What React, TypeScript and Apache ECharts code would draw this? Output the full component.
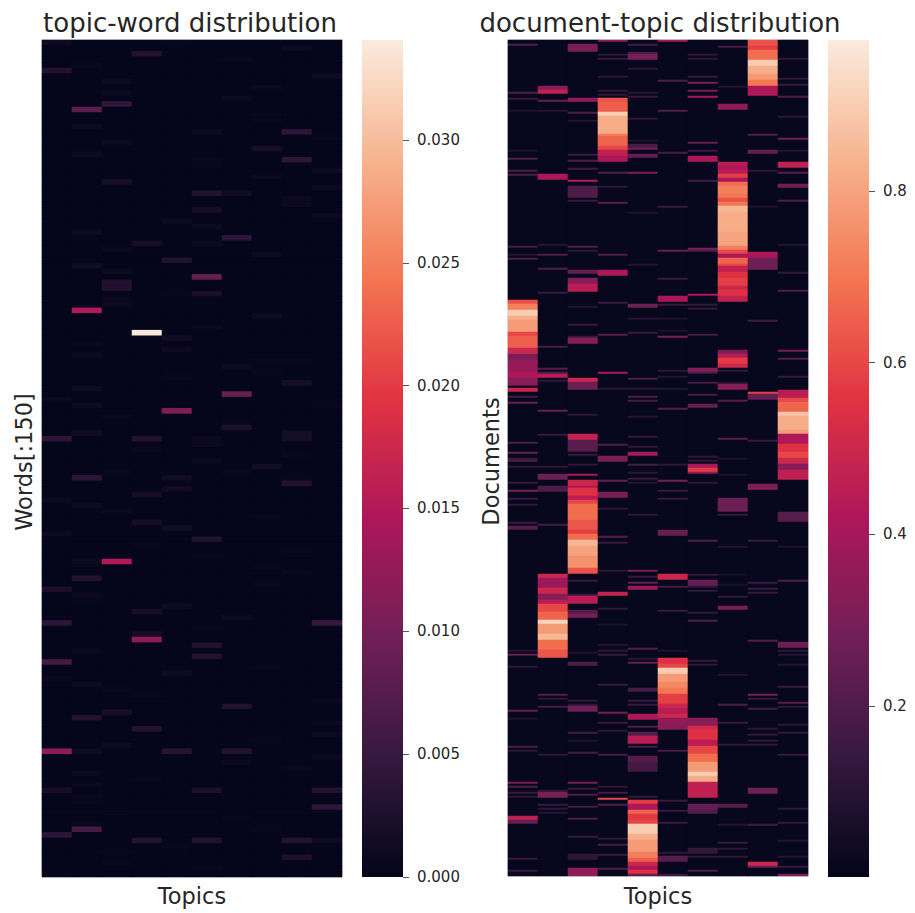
import React, { useEffect, useRef } from "react";
import * as echarts from "echarts";

const topics = ["0", "1", "2", "3", "4", "5", "6", "7", "8", "9"];
const wordCount = 150;
const docCount = 418;
const wordBase = 0.0002;
const docBase = 0.012;
const rocket = ["#03051a", "#35193e", "#701f57", "#ad1759", "#e13342", "#f37651", "#f6b48f", "#faebdd"];
const wordTicks = [0, 0.005, 0.01, 0.015, 0.02, 0.025, 0.03];
const docTicks = [0.2, 0.4, 0.6, 0.8];
const wordRange = [0, 0.03407];
const docRange = [0.0007, 0.976];

// [word row, weight]
const word0 = [[0,.001],[5,.003],[64,.0008],[71,.004],[82,.001],[88,.001],[98,.0025],[104,.004],[111,.006],[114,.0007],[127,.012],[134,.002],[142,.004],[149,.0006]];
const word1 = [[4,.0007],[12,.008],[15,.001],[20,.001],[34,.0012],[40,.0015],[48,.015],[54,.0007],[56,.001],[62,.0012],[65,.0012],[70,.0015],[78,.004],[83,.001],[93,.0012],[96,.003],[99,.0008],[100,.0005],[109,.0007],[115,.001],[121,.003],[127,.0012],[131,.0008],[133,.0008],[135,.0006],[136,.0006],[140,.0005],[141,.006]];
const word2 = [[7,.001],[9,.001],[11,.0045],[18,.001],[25,.002],[37,.0008],[41,.001],[43,.003],[44,.003],[46,.0008],[47,.0008],[67,.0006],[77,.0005],[84,.0008],[93,.015],[116,.0007],[120,.002],[126,.0012],[138,.0004],[145,.0006],[147,.0005]];
const word3 = [[2,.003],[36,.002],[52,.034],[71,.003],[73,.0007],[81,.002],[86,.002],[90,.0006],[102,.002],[106,.002],[107,.012],[117,.0006],[123,.003],[132,.0005],[143,.003]];
const word4 = [[0,.0005],[32,.001],[39,.003],[45,.0005],[53,.0015],[55,.001],[60,.0004],[66,.011],[78,.0015],[80,.0015],[87,.0015],[101,.0012],[113,.0012],[127,.0035],[144,.0006]];
const word5 = [[16,.001],[21,.0006],[22,.0006],[27,.003],[30,.002],[33,.001],[36,.001],[42,.009],[45,.0022],[51,.0008],[71,.0008],[72,.0008],[75,.0008],[89,.003],[92,.0006],[105,.0005],[108,.003],[110,.003],[134,.0025],[143,.003],[148,.0005]];
const word6 = [[3,.0007],[10,.001],[27,.0015],[35,.004],[58,.001],[63,.009],[68,.0005],[69,.0025],[77,.0006],[103,.001],[119,.003],[127,.003],[129,.0008],[139,.0006]];
const word7 = [[8,.0008],[13,.0007],[14,.0007],[19,.002],[24,.0008],[38,.0008],[49,.0012],[57,.0005],[59,.0005],[76,.0015],[85,.0004],[94,.0005],[97,.0004],[112,.0004],[125,.0005],[141,.0005]];
const word8 = [[1,.001],[16,.004],[21,.004],[28,.0008],[29,.0008],[57,.0006],[61,.002],[70,.0018],[71,.0018],[74,.0007],[78,.0005],[79,.003],[91,.0006],[95,.0007],[130,.0006],[143,.003],[146,.0025]];
const word9 = [[6,.0012],[17,.0004],[23,.0012],[26,.001],[31,.001],[65,.0005],[104,.005],[118,.0007],[122,.0007],[124,.0008],[128,.0008],[134,.003],[137,.004],[143,.0012]];
const wordColumns = [word0, word1, word2, word3, word4, word5, word6, word7, word8, word9];

// [first document row, row after last, weight]
const doc0 = [[2,3,.2],[26,27,.2],[29,30,.15],[35,36,.08],[55,56,.08],[59,60,.2],[65,66,.2],[67,68,.2],[103,104,.17],[107,108,.1],[109,110,.2],[130,132,.62],[132,135,.72],[135,138,.9],[138,140,.82],[140,146,.78],[146,148,.6],[148,154,.65],[154,157,.5],[157,160,.3],[160,166,.37],[166,169,.42],[169,173,.33],[174,176,.5],[178,179,.18],[181,182,.25],[201,202,.2],[206,207,.25],[209,210,.15],[210,211,.2],[213,214,.12],[221,222,.15],[225,226,.3],[229,230,.15],[232,233,.12],[241,242,.15],[243,245,.22],[305,306,.1],[307,308,.25],[313,314,.12],[335,336,.25],[339,340,.08],[353,354,.2],[355,356,.12],[371,372,.3],[373,374,.2],[376,377,.15],[378,379,.12],[388,390,.47],[390,392,.25],[409,410,.15],[415,416,.15]];
const doc1 = [[23,25,.33],[25,27,.47],[30,31,.25],[35,36,.1],[67,70,.42],[102,103,.1],[107,108,.2],[114,115,.2],[126,127,.15],[153,154,.18],[164,165,.22],[166,167,.2],[167,169,.45],[170,171,.12],[185,186,.25],[197,198,.15],[213,214,.12],[217,220,.27],[223,226,.2],[242,243,.18],[267,269,.5],[269,274,.38],[274,277,.5],[277,280,.33],[280,282,.45],[282,286,.6],[286,290,.66],[290,292,.92],[292,297,.78],[297,300,.85],[300,305,.68],[305,309,.63],[327,328,.2],[329,330,.12],[333,334,.18],[357,358,.12],[375,376,.12],[376,379,.3],[382,383,.15],[384,385,.12],[386,387,.1]];
const doc2 = [[2,6,.3],[29,31,.35],[36,37,.2],[40,41,.1],[57,58,.15],[60,61,.2],[64,65,.17],[70,71,.45],[73,79,.2],[80,81,.15],[103,104,.2],[105,106,.12],[115,117,.25],[119,122,.33],[122,126,.45],[133,134,.1],[142,143,.15],[148,149,.15],[149,152,.33],[169,171,.5],[171,175,.27],[187,188,.12],[197,200,.48],[200,206,.22],[207,208,.15],[212,213,.12],[217,218,.4],[220,223,.5],[223,224,.42],[224,228,.55],[228,230,.45],[230,232,.6],[232,240,.68],[240,245,.63],[245,247,.58],[247,250,.68],[250,253,.85],[253,258,.8],[258,264,.76],[264,267,.62],[270,271,.15],[277,278,.15],[278,282,.45],[285,287,.22],[287,289,.3],[306,307,.08],[311,313,.2],[330,331,.12],[332,333,.12],[333,336,.27],[346,347,.18],[350,351,.08],[356,357,.18],[371,372,.3],[374,375,.15],[377,378,.2],[383,384,.18],[389,390,.2],[398,399,.15],[407,410,.12],[414,418,.35]];
const doc3 = [[0,1,.35],[7,8,.12],[9,10,.15],[18,19,.12],[25,26,.12],[27,28,.12],[29,31,.62],[31,36,.65],[36,38,.9],[38,47,.82],[47,48,.72],[48,53,.66],[53,55,.6],[55,58,.47],[58,61,.42],[66,67,.2],[73,74,.12],[81,82,.22],[107,108,.2],[115,118,.42],[131,132,.15],[147,148,.22],[166,167,.42],[174,175,.12],[202,203,.2],[208,211,.3],[220,221,.25],[226,229,.3],[234,235,.12],[248,249,.22],[251,252,.15],[265,266,.12],[276,278,.48],[284,285,.12],[292,293,.08],[302,303,.1],[305,306,.13],[307,308,.15],[322,323,.15],[336,337,.28],[341,342,.15],[345,346,.12],[357,358,.18],[373,374,.12],[376,377,.18],[379,380,.6],[382,383,.2],[399,400,.12],[402,403,.18],[407,408,.15],[414,415,.2]];
const doc4 = [[2,3,.18],[6,7,.18],[7,10,.3],[14,15,.12],[26,27,.1],[28,29,.15],[39,40,.12],[50,51,.08],[52,54,.18],[54,55,.3],[57,59,.25],[66,67,.3],[86,87,.08],[112,113,.1],[132,134,.27],[139,140,.1],[146,147,.15],[169,170,.2],[174,175,.12],[178,179,.2],[180,181,.18],[188,189,.1],[198,199,.13],[203,204,.13],[206,208,.4],[212,213,.18],[216,217,.12],[219,220,.15],[221,222,.1],[237,238,.12],[265,266,.3],[268,269,.15],[271,272,.25],[273,275,.38],[304,305,.22],[309,310,.12],[311,312,.25],[324,326,.18],[330,331,.15],[332,333,.15],[337,340,.42],[343,344,.2],[346,348,.22],[348,352,.45],[353,354,.18],[358,361,.22],[361,366,.17],[378,379,.13],[380,382,.58],[382,385,.42],[385,387,.66],[387,390,.57],[390,392,.6],[392,397,.9],[397,400,.83],[400,406,.78],[406,409,.72],[409,411,.65],[411,413,.5],[413,415,.42],[415,417,.55],[417,419,.25]];
const doc5 = [[0,1,.4],[20,21,.2],[35,36,.2],[56,57,.18],[83,84,.15],[105,106,.25],[119,120,.15],[128,131,.42],[132,133,.15],[139,140,.08],[145,146,.08],[148,149,.3],[165,166,.12],[168,169,.1],[174,175,.1],[184,185,.22],[212,213,.12],[220,221,.28],[225,226,.15],[229,230,.15],[245,248,.25],[267,270,.5],[273,274,.17],[285,286,.15],[305,306,.08],[309,312,.55],[312,314,.6],[314,317,.9],[317,321,.78],[321,324,.74],[324,327,.7],[327,332,.58],[332,334,.5],[334,337,.45],[337,339,.5],[339,342,.35],[342,345,.33],[355,356,.18],[380,381,.15],[385,386,.15],[391,392,.15],[406,407,.12],[408,411,.22],[417,418,.15]];
const doc6 = [[7,8,.12],[9,10,.12],[18,19,.15],[21,22,.3],[25,26,.3],[28,29,.4],[51,52,.25],[55,56,.15],[58,61,.42],[70,71,.18],[104,105,.3],[105,106,.2],[127,128,.42],[132,133,.13],[134,135,.13],[147,148,.18],[164,166,.32],[166,167,.18],[171,172,.18],[177,178,.18],[182,184,.25],[208,209,.12],[210,211,.12],[212,214,.4],[214,216,.57],[216,217,.35],[221,222,.12],[250,251,.2],[267,268,.13],[270,273,.25],[273,274,.12],[275,276,.13],[286,287,.13],[290,291,.2],[310,311,.15],[312,313,.12],[339,343,.33],[343,345,.52],[345,350,.55],[350,353,.45],[353,357,.6],[357,361,.68],[361,366,.78],[366,368,.9],[368,371,.82],[371,379,.47],[382,385,.25],[385,387,.2],[404,407,.13],[408,409,.12],[415,416,.2]];
const doc7 = [[3,4,.17],[23,24,.1],[32,35,.35],[61,63,.45],[63,65,.42],[65,67,.45],[67,69,.58],[69,71,.4],[71,73,.68],[73,77,.72],[77,79,.7],[79,81,.62],[81,83,.7],[83,86,.85],[86,96,.82],[96,103,.8],[103,105,.72],[105,107,.6],[107,109,.42],[109,112,.66],[112,113,.6],[113,116,.47],[116,119,.55],[119,123,.58],[123,125,.5],[125,128,.55],[128,131,.47],[155,157,.3],[157,159,.45],[159,162,.57],[162,164,.5],[165,166,.13],[171,172,.1],[172,175,.33],[180,181,.22],[199,200,.22],[209,210,.08],[217,218,.08],[229,236,.27],[237,238,.15],[253,254,.1],[267,268,.06],[272,273,.07],[278,279,.13],[283,285,.3],[317,318,.1],[332,333,.2],[341,342,.15],[352,353,.12],[382,384,.22],[392,393,.1],[401,402,.15],[404,405,.12],[408,409,.12]];
const doc8 = [[0,3,.62],[3,5,.58],[5,10,.68],[10,13,.9],[13,17,.82],[17,20,.78],[20,23,.7],[23,26,.42],[26,28,.43],[47,48,.2],[55,57,.25],[65,66,.12],[83,84,.08],[106,109,.42],[109,115,.27],[140,141,.17],[176,177,.58],[177,180,.25],[200,201,.15],[222,224,.3],[224,225,.35],[250,251,.15],[271,272,.15],[274,275,.15],[276,277,.15],[300,301,.22],[327,328,.3],[329,330,.15],[334,335,.18],[344,345,.12],[347,348,.13],[350,351,.12],[352,353,.12],[374,377,.27],[392,393,.17],[411,413,.5],[413,414,.25]];
const doc9 = [[9,10,.12],[19,20,.12],[22,23,.15],[28,29,.2],[38,39,.12],[49,50,.27],[55,56,.1],[61,64,.47],[66,67,.22],[72,74,.28],[80,81,.2],[102,103,.1],[116,117,.13],[125,126,.2],[155,156,.3],[159,160,.2],[168,169,.15],[175,179,.45],[179,181,.6],[181,186,.66],[186,188,.88],[188,195,.82],[195,197,.78],[197,202,.42],[202,206,.55],[206,209,.6],[209,212,.5],[212,215,.33],[215,220,.47],[236,241,.22],[253,254,.08],[270,271,.2],[301,304,.27],[305,306,.12],[307,308,.1],[312,313,.1],[323,324,.15],[331,332,.22],[333,334,.12],[342,343,.12],[346,347,.13],[357,358,.15],[384,385,.12],[391,392,.13],[400,401,.1],[408,409,.1],[413,414,.15],[417,419,.3]];
const docColumns = [doc0, doc1, doc2, doc3, doc4, doc5, doc6, doc7, doc8, doc9];

const ink = "#262626";
const face = "DejaVu Sans";

function wordCells(): number[][] {
  const out: number[][] = [];
  wordColumns.forEach((col, c) => {
    const seen = new Map(col.map((p) => [p[0], p[1]]));
    for (let r = 0; r < wordCount; r++) out.push([c, r, seen.get(r) ?? wordBase]);
  });
  return out;
}

function docCells(): number[][] {
  const out: number[][] = [];
  docColumns.forEach((col, c) => {
    const vals = new Array(docCount).fill(docBase);
    col.forEach(([a, b, v]) => {
      for (let r = a; r < b && r < docCount; r++) vals[r] = v;
    });
    vals.forEach((v, r) => out.push([c, r, v]));
  });
  return out;
}

const rows = (n: number) => Array.from({ length: n }, (_, i) => String(i));

function buildOption() {
  const barFill = new echarts.graphic.LinearGradient(0, 1, 0, 0, rocket.map((color, i) => ({ offset: i / (rocket.length - 1), color })));
  const heatX = (gridIndex: number, gap: number) => ({
    type: "category", gridIndex, data: topics, name: "Topics", nameLocation: "middle", nameGap: gap,
    nameTextStyle: { fontFamily: face, fontSize: 22.5, color: ink },
    axisLine: { show: false }, axisTick: { show: false }, axisLabel: { show: false }, splitLine: { show: false }, splitArea: { show: false },
  });
  const heatY = (gridIndex: number, n: number, name: string, nameGap: number) => ({
    type: "category", gridIndex, data: rows(n), inverse: true, name, nameLocation: "middle", nameGap,
    nameTextStyle: { fontFamily: face, fontSize: 22.5, color: ink, padding: [0, 7, 0, 0] },
    axisLine: { show: false }, axisTick: { show: false }, axisLabel: { show: false }, splitLine: { show: false }, splitArea: { show: false },
  });
  const barX = (gridIndex: number) => ({ type: "value", gridIndex, show: false, min: 0, max: 1 });
  const barY = (gridIndex: number, range: number[], ticks: number[], digits: number) => ({
    type: "value", gridIndex, position: "right", min: range[0], max: range[1],
    axisLine: { show: false, onZero: false }, splitLine: { show: false },
    axisTick: { show: true, length: 6, customValues: ticks, lineStyle: { color: "#555555", width: 1 } },
    axisLabel: { show: true, customValues: ticks, margin: 14, fontFamily: face, fontSize: 15, color: ink, formatter: (v: number) => v.toFixed(digits) },
  });
  const bounds = { outerBoundsMode: "none" };
  const heatGrid = { show: true, backgroundColor: "#04051b", borderColor: "#c4c4d0", borderWidth: 1, ...bounds };
  return {
    animation: false,
    backgroundColor: "#ffffff",
    title: [
      { text: "topic-word distribution", left: 185, top: 5, textAlign: "center", textStyle: { fontFamily: face, fontSize: 26, fontWeight: "normal", color: ink } },
      { text: "document-topic distribution", left: 655, top: 5, textAlign: "center", textStyle: { fontFamily: face, fontSize: 26, fontWeight: "normal", color: ink } },
    ],
    grid: [
      { left: 42, top: 40, width: 300, height: 837, ...heatGrid },
      { left: 362, top: 40, width: 41, height: 837, show: true, backgroundColor: barFill, borderWidth: 0, ...bounds },
      { left: 508, top: 40, width: 300, height: 836, ...heatGrid },
      { left: 828, top: 40, width: 41, height: 837, show: true, backgroundColor: barFill, borderWidth: 0, ...bounds },
    ],
    xAxis: [heatX(0, 7), barX(1), heatX(2, 8), barX(3)],
    yAxis: [
      heatY(0, wordCount, "Words[:150]", 7),
      barY(1, wordRange, wordTicks, 3),
      heatY(2, docCount, "Documents", 6),
      barY(3, docRange, docTicks, 1),
    ],
    visualMap: [
      { show: false, type: "continuous", seriesIndex: 0, min: wordRange[0], max: wordRange[1], inRange: { color: rocket } },
      { show: false, type: "continuous", seriesIndex: 1, min: docRange[0], max: docRange[1], inRange: { color: rocket } },
    ],
    series: [
      { type: "heatmap", xAxisIndex: 0, yAxisIndex: 0, data: wordCells(), progressive: 0, silent: true, itemStyle: { borderWidth: 0 } },
      { type: "heatmap", xAxisIndex: 2, yAxisIndex: 2, data: docCells(), progressive: 0, silent: true, itemStyle: { borderWidth: 0 } },
    ],
  };
}

export default function App() {
  const ref = useRef<HTMLDivElement>(null);
  useEffect(() => {
    const chart = echarts.init(ref.current!, undefined, { renderer: "svg" });
    chart.setOption(buildOption() as any);
    return () => chart.dispose();
  }, []);
  return <div ref={ref} style={{ position: "fixed", left: 0, top: 0, width: 915, height: 913 }} />;
}
